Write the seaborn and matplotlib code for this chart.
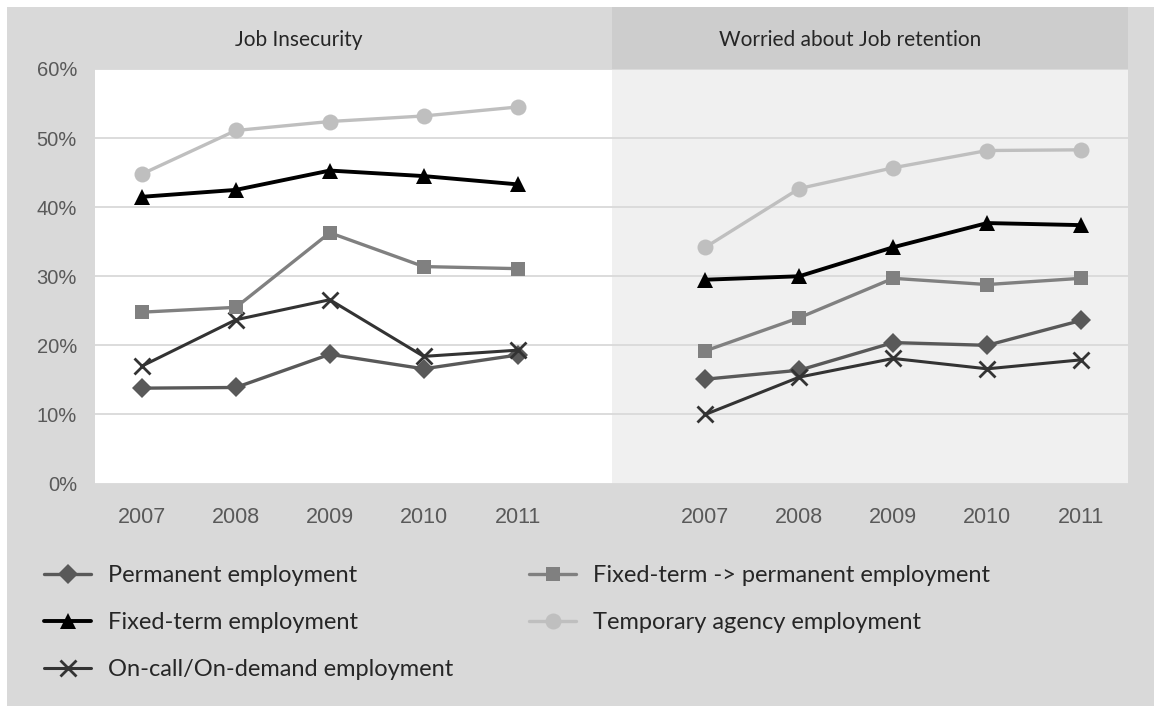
import matplotlib
matplotlib.use("Agg")
import matplotlib.pyplot as plt
import matplotlib.transforms as mtransforms
from matplotlib.patches import Rectangle
import pandas as pd
import seaborn as sns

# ---- data -------------------------------------------------------------
years = ["2007", "2008", "2009", "2010", "2011"]
panel_titles = ["Job Insecurity", "Worried about Job retention"]
series_names = [
    "Permanent employment",
    "Fixed-term employment",
    "On-call/On-demand employment",
    "Fixed-term -> permanent employment",
    "Temporary agency employment",
]

# share of respondents (%) reporting job insecurity
insecurity_permanent = [13.8, 13.9, 18.7, 16.6, 18.6]
insecurity_fixed_term = [41.5, 42.5, 45.3, 44.5, 43.3]
insecurity_on_call = [17.0, 23.7, 26.6, 18.4, 19.3]
insecurity_fixed_to_perm = [24.8, 25.5, 36.3, 31.4, 31.1]
insecurity_temp_agency = [44.8, 51.1, 52.4, 53.2, 54.5]

# share of respondents (%) worried about keeping their job
retention_permanent = [15.1, 16.4, 20.4, 20.0, 23.6]
retention_fixed_term = [29.5, 30.0, 34.2, 37.7, 37.4]
retention_on_call = [10.0, 15.4, 18.1, 16.6, 17.9]
retention_fixed_to_perm = [19.2, 24.0, 29.7, 28.8, 29.7]
retention_temp_agency = [34.2, 42.7, 45.7, 48.2, 48.3]

y_ticks = [0, 10, 20, 30, 40, 50, 60]

panel_values = [
    [insecurity_permanent, insecurity_fixed_term, insecurity_on_call,
     insecurity_fixed_to_perm, insecurity_temp_agency],
    [retention_permanent, retention_fixed_term, retention_on_call,
     retention_fixed_to_perm, retention_temp_agency],
]

# ---- styling ----------------------------------------------------------
styles = {
    "Permanent employment": dict(color="#595959", marker="D", markersize=10.5, lw=2.4),
    "Fixed-term employment": dict(color="#000000", marker="^", markersize=12, lw=2.8),
    "On-call/On-demand employment": dict(color="#333333", marker="x", markersize=11, lw=2.2, mew=2.0),
    "Fixed-term -> permanent employment": dict(color="#808080", marker="s", markersize=10.5, lw=2.4),
    "Temporary agency employment": dict(color="#bfbfbf", marker="o", markersize=11.5, lw=2.4),
}

sns.set_theme(style="white")
plt.rcParams["font.family"] = ["Liberation Sans", "DejaVu Sans"]

W, H = 1154, 706
BG = "#d9d9d9"
fig = plt.figure(figsize=(W / 100, H / 100), dpi=100, facecolor=BG)

ax_left, ax_right, ax_top, ax_bottom = 95, 1128, 69, 483.5
ax = fig.add_axes([ax_left / W, 1 - ax_bottom / H,
                   (ax_right - ax_left) / W, (ax_bottom - ax_top) / H])
ax.set_facecolor("white")

# one category axis: five years, a blank slot, five years
gap = 1
positions = [list(range(len(years))),
             [len(years) + gap + i for i in range(len(years))]]

for p, values in enumerate(panel_values):
    for name, vals in zip(series_names, values):
        st = styles[name]
        df = pd.DataFrame({"x": positions[p], "y": vals})
        kw = dict(marker=st["marker"], markersize=st["markersize"],
                  markeredgecolor=st["color"], markerfacecolor=st["color"])
        kw["markeredgewidth"] = st.get("mew", 0)
        sns.lineplot(data=df, x="x", y="y", ax=ax, color=st["color"],
                     linewidth=st["lw"], label=name if p == 0 else None,
                     legend=False, zorder=3, **kw)

split = len(years) - 0.5 + gap / 2
x_end = 2 * len(years) + gap - 0.5
ax.set_xlim(-0.5, x_end)
ax.set_ylim(0, 60)

# right panel background
ax.axvspan(split, x_end, color="#f0f0f0", zorder=0.1, lw=0)

ax.set_yticks(y_ticks)
ax.set_yticklabels([f"{v}%" for v in y_ticks])
ax.set_xticks(positions[0] + positions[1])
ax.set_xticklabels(years + years)
ax.grid(axis="y", color="#d9d9d9", lw=1.3)
ax.grid(axis="x", visible=False)
ax.set_axisbelow(True)
for s in ax.spines.values():
    s.set_visible(False)
ax.tick_params(axis="y", length=0, pad=13, labelsize=14.5, labelcolor="#595959")
ax.tick_params(axis="x", length=0, pad=17, labelsize=15.5, labelcolor="#595959")
ax.set_xlabel("")
ax.set_ylabel("")

# header strip above the right panel
trans = mtransforms.blended_transform_factory(ax.transData, ax.transAxes)
hdr_h = (ax_top - 7) / (ax_bottom - ax_top)
ax.add_patch(Rectangle((split, 1), x_end - split, hdr_h,
                       transform=trans, clip_on=False, color="#cdcdcd", lw=0, zorder=0))

# panel titles
title_font = ["Lato", "DejaVu Sans"]
fig.text(299 / W, 1 - 40 / H, panel_titles[0], ha="center", va="center",
         fontsize=15, family=title_font, color="#262626")
fig.text(850 / W, 1 - 40 / H, panel_titles[1], ha="center", va="center",
         fontsize=15, family=title_font, color="#262626")

# white margin at top and left
fig.patches.append(Rectangle((0, 1 - 7 / H), 1, 7 / H, transform=fig.transFigure,
                             color="white", lw=0, zorder=-1))
fig.patches.append(Rectangle((0, 0), 7 / W, 1, transform=fig.transFigure,
                             color="white", lw=0, zorder=-1))

handles, labels = ax.get_legend_handles_labels()
fig.legend(handles, labels, loc="upper left", bbox_to_anchor=(44 / W, 1 - 565 / H),
           ncol=2, frameon=False, handlelength=2.0, handletextpad=0.72,
           labelspacing=1.1, columnspacing=3.2, borderpad=0, borderaxespad=0,
           prop={"family": title_font, "size": 17},
           labelcolor="#262626")

fig.savefig("out.png", dpi=100, facecolor=BG)
